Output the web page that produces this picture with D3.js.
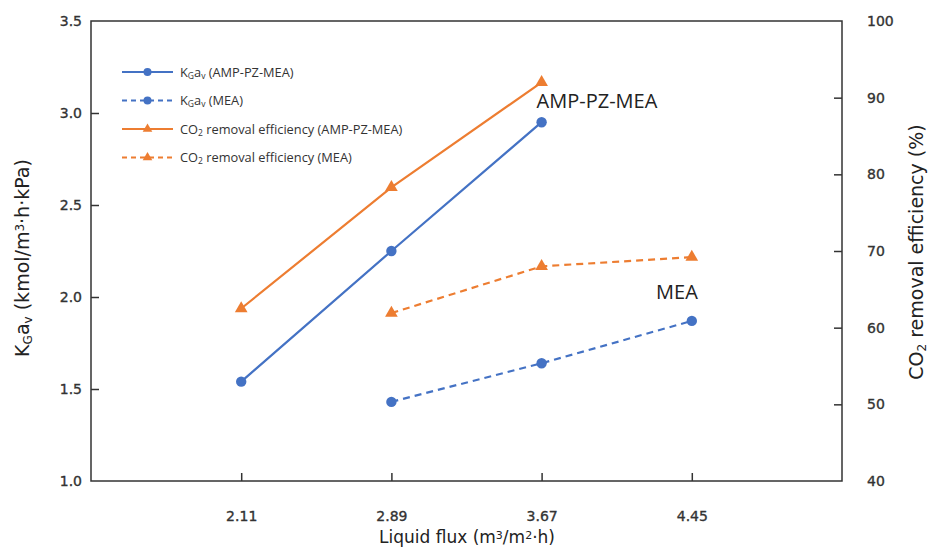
<!DOCTYPE html>
<html>
<head>
<meta charset="utf-8">
<script src="https://cdn.jsdelivr.net/npm/d3@7"></script>
<style>
  html, body { margin: 0; padding: 0; background: #fff; }
  svg { display: block; }
</style>
</head>
<body>
<svg id="chart" width="931" height="548"></svg>
<script>
// Liquid flux categories (m3/m2·h)
const flux = ["2.11", "2.89", "3.67", "4.45"];

// Overall mass transfer coefficient KGav (kmol/m3·h·kPa)
const kgaAmpPzMea = [1.54, 2.25, 2.95, null];
const kgaMea = [null, 1.43, 1.64, 1.87];

// CO2 removal efficiency (%)
const effAmpPzMea = [62.5, 78.3, 92.0, null];
const effMea = [null, 61.9, 68.0, 69.2];

// Axis tick values
const leftTicks = [1.0, 1.5, 2.0, 2.5, 3.0, 3.5];
const rightTicks = [40, 50, 60, 70, 80, 90, 100];

const BLUE = "#4472C4";
const ORANGE = "#ED7D31";
const AXIS = "#333333";
const TEXT = "#333333";

const svg = d3.select("#chart");
const plot = { left: 91, right: 842, top: 21, bottom: 481 };

const x = d3.scalePoint().domain(flux).range([plot.left, plot.right]).padding(1);
const yL = d3.scaleLinear().domain([1.0, 3.5]).range([plot.bottom, plot.top]);
const yR = d3.scaleLinear().domain([40, 100]).range([plot.bottom, plot.top]);

// Frame
svg.append("rect")
  .attr("x", plot.left).attr("y", plot.top)
  .attr("width", plot.right - plot.left).attr("height", plot.bottom - plot.top)
  .attr("fill", "none").attr("stroke", AXIS).attr("stroke-width", 1.5);

const tickFont = "DejaVu Sans, Verdana, sans-serif";

// Left axis (ticks point inward)
const axL = svg.append("g").attr("transform", `translate(${plot.left},0)`)
  .call(d3.axisLeft(yL).tickValues(leftTicks).tickFormat(d3.format(".1f"))
    .tickSizeInner(-8).tickSizeOuter(0).tickPadding(12));
// Right axis
const axR = svg.append("g").attr("transform", `translate(${plot.right},0)`)
  .call(d3.axisRight(yR).tickValues(rightTicks).tickFormat(d3.format("d"))
    .tickSizeInner(-8).tickSizeOuter(0).tickPadding(25));
// Bottom axis
const axB = svg.append("g").attr("transform", `translate(0,${plot.bottom})`)
  .call(d3.axisBottom(x).tickSizeInner(-8).tickSizeOuter(0).tickPadding(30));

[axL, axR, axB].forEach(g => {
  g.select(".domain").remove();
  g.selectAll(".tick line").attr("stroke", AXIS).attr("stroke-width", 1.5);
  g.selectAll(".tick text").attr("fill", TEXT)
    .attr("stroke", TEXT).attr("stroke-width", 0.35)
    .style("font-family", tickFont).style("font-size", "14px");
});
axL.selectAll(".tick text").attr("x", -9);
// remove tick marks lying on the frame edges
axL.selectAll(".tick line").filter(d => d === 1.0 || d === 3.5).remove();
axR.selectAll(".tick line").filter(d => d === 40 || d === 100).remove();

// Series
const series = [
  { vals: kgaAmpPzMea, y: yL, color: BLUE, dash: null, marker: "circle" },
  { vals: kgaMea, y: yL, color: BLUE, dash: "7,5", marker: "circle" },
  { vals: effAmpPzMea, y: yR, color: ORANGE, dash: null, marker: "triangle" },
  { vals: effMea, y: yR, color: ORANGE, dash: "7,5", marker: "triangle" }
];

const tri = d3.symbol().type(d3.symbolTriangle).size(70);

series.forEach(s => {
  const pts = flux.map((f, i) => ({ f, v: s.vals[i] })).filter(p => p.v !== null);
  const line = d3.line().x(p => x(p.f)).y(p => s.y(p.v));
  svg.append("path").datum(pts)
    .attr("d", line).attr("fill", "none")
    .attr("stroke", s.color).attr("stroke-width", 2.2)
    .attr("stroke-dasharray", s.dash);
  const g = svg.append("g");
  if (s.marker === "circle") {
    g.selectAll("circle").data(pts).join("circle")
      .attr("cx", p => x(p.f)).attr("cy", p => s.y(p.v)).attr("r", 5.2)
      .attr("fill", s.color);
  } else {
    g.selectAll("path").data(pts).join("path")
      .attr("d", tri)
      .attr("transform", p => `translate(${x(p.f)},${s.y(p.v)})`)
      .attr("fill", s.color);
  }
});

// Legend
const legend = svg.append("g").attr("transform", "translate(122,72)");
const legendItems = [
  { color: BLUE, dash: null, marker: "circle", parts: [["K"], ["G", "sub"], ["a"], ["v", "sub"], [" (AMP-PZ-MEA)"]] },
  { color: BLUE, dash: "5,4", marker: "circle", parts: [["K"], ["G", "sub"], ["a"], ["v", "sub"], [" (MEA)"]] },
  { color: ORANGE, dash: null, marker: "triangle", parts: [["CO"], ["2", "sub"], [" removal efficiency (AMP-PZ-MEA)"]] },
  { color: ORANGE, dash: "5,4", marker: "triangle", parts: [["CO"], ["2", "sub"], [" removal efficiency (MEA)"]] }
];

function richText(sel, parts, subSize) {
  parts.forEach(([t, kind]) => {
    const ts = sel.append("tspan").text(t);
    if (kind === "sub") ts.attr("baseline-shift", "-25%").style("font-size", subSize);
    if (kind === "sup") ts.attr("baseline-shift", "40%").style("font-size", subSize);
  });
}

legendItems.forEach((it, i) => {
  const g = legend.append("g").attr("transform", `translate(0,${i * 28.5})`);
  g.append("line").attr("x1", 0).attr("x2", 51).attr("y1", 0).attr("y2", 0)
    .attr("stroke", it.color).attr("stroke-width", 2).attr("stroke-dasharray", it.dash);
  if (it.marker === "circle") {
    g.append("circle").attr("cx", 25.5).attr("cy", 0).attr("r", 4).attr("fill", it.color);
  } else {
    g.append("path").attr("d", d3.symbol().type(d3.symbolTriangle).size(40)())
      .attr("transform", "translate(25.5,0)").attr("fill", it.color);
  }
  const t = g.append("text").attr("x", 58).attr("y", 4.5)
    .attr("fill", TEXT)
    .style("font-family", "Open Sans, sans-serif").style("font-size", "12.8px");
  richText(t, it.parts, "8.5px");
});

// Series annotations
const annFont = "Open Sans, sans-serif";
svg.append("text").attr("x", x("3.67") - 5).attr("y", yR(effAmpPzMea[2]) + 26)
  .attr("fill", "#222").style("font-family", annFont).style("font-size", "20px")
  .text("AMP-PZ-MEA");
svg.append("text").attr("x", x("4.45") + 6).attr("y", yL(kgaMea[3]) - 22)
  .attr("text-anchor", "end")
  .attr("fill", "#222").style("font-family", annFont).style("font-size", "20px")
  .text("MEA");

// Axis titles
const titleFont = "DejaVu Sans, Verdana, sans-serif";
const tl = svg.append("text")
  .attr("transform", `translate(29,258) rotate(-90)`)
  .attr("text-anchor", "middle").attr("fill", "#222")
  .style("font-family", titleFont).style("font-size", "19px");
richText(tl, [["K"], ["G", "sub"], ["a"], ["v", "sub"], [" (kmol/m"], ["3", "sup"], ["·h·kPa)"]], "12px");

const tr = svg.append("text")
  .attr("transform", `translate(923,252) rotate(-90)`)
  .attr("text-anchor", "middle").attr("fill", "#222")
  .style("font-family", titleFont).style("font-size", "19px");
richText(tr, [["CO"], ["2", "sub"], [" removal efficiency (%)"]], "12px");

const tb = svg.append("text")
  .attr("x", 467).attr("y", 543)
  .attr("text-anchor", "middle").attr("fill", "#222")
  .style("font-family", titleFont).style("font-size", "17px");
richText(tb, [["Liquid flux (m"], ["3", "sup"], ["/m"], ["2", "sup"], ["·h)"]], "11px");
</script>
</body>
</html>
